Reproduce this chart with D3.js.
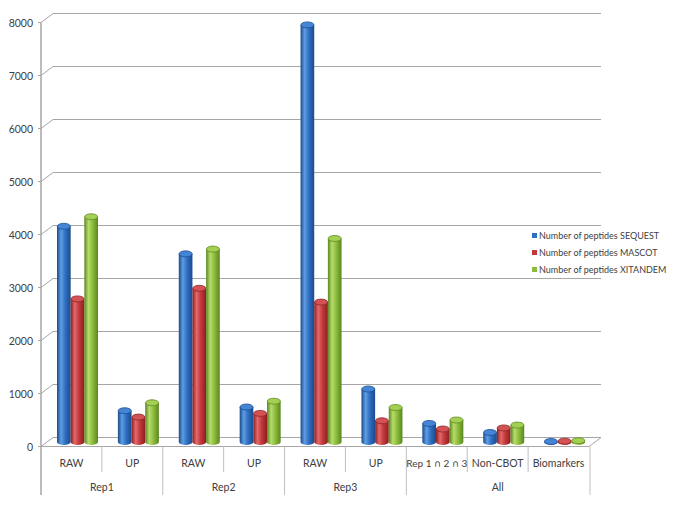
<!DOCTYPE html>
<html>
<head>
<meta charset="utf-8">
<script src="https://cdn.jsdelivr.net/npm/d3@7"></script>
<style>
  body { margin: 0; background: #fff; }
  svg { display: block; }
  text { font-family: Lato, "DejaVu Sans", sans-serif; fill: #404040; }
</style>
</head>
<body>
<svg id="chart" width="685" height="513"></svg>
<script>
// === Data ===
const subLabels = ['RAW', 'UP', 'RAW', 'UP', 'RAW', 'UP', 'Rep 1 \u2229 2 \u2229 3', 'Non-CBOT', 'Biomarkers'];
const groupOf = ['Rep1', 'Rep1', 'Rep2', 'Rep2', 'Rep3', 'Rep3', 'All', 'All', 'All'];
const groupLabels = ['Rep1', 'Rep2', 'Rep3', 'All'];
const seriesNames = ['Number of peptides SEQUEST', 'Number of peptides MASCOT', 'Number of peptides XITANDEM'];
const sequest = [4070, 590, 3550, 660, 7870, 1000, 350, 180, 10];
const mascot = [2700, 470, 2900, 540, 2640, 400, 245, 265, 15];
const xtandem = [4250, 740, 3640, 770, 3840, 650, 415, 320, 25];
const yTicks = [0, 1000, 2000, 3000, 4000, 5000, 6000, 7000, 8000];

const seriesValues = [sequest, mascot, xtandem];
const palette = [
    { dark: '#1b4a8a', mid: '#2f6fc2', light: '#5e9ee4', top: '#4585d6', rim: '#1d4f92' },
    { dark: '#8a1f21', mid: '#c3393b', light: '#e4696a', top: '#d45253', rim: '#8e2527' },
    { dark: '#5a8620', mid: '#8dbd3c', light: '#b6dc6c', top: '#a3d052', rim: '#5f8c24' }
];

const svg = d3.select('#chart');
const depth = { dx: 12, dy: -9 };

// Scales (front plane of the 3D box)
const yScale = d3.scaleLinear().domain([0, 8000]).range([446.5, 22.5]);
const xScale = d3.scaleBand().domain(d3.range(subLabels.length)).range([41, 589]);
const xInner = d3.scaleBand().domain(d3.range(3)).range([10, 51]);

// Gradients for the cylinders
const defs = svg.append('defs');
palette.forEach((c, i) => {
    const grad = defs.append('linearGradient')
        .attr('id', 'cyl' + i)
        .attr('x1', '0%').attr('x2', '100%').attr('y1', '0%').attr('y2', '0%');
    grad.append('stop').attr('offset', '0%').attr('stop-color', c.dark);
    grad.append('stop').attr('offset', '30%').attr('stop-color', c.light);
    grad.append('stop').attr('offset', '60%').attr('stop-color', c.mid);
    grad.append('stop').attr('offset', '100%').attr('stop-color', c.dark);
});

// === Walls / gridlines ===
const grid = svg.append('g').attr('class', 'grid');
const left = xScale.range()[0];
const right = xScale.range()[1];

grid.selectAll('line.gridline')
    .data(yTicks)
    .join('line')
    .attr('x1', left + depth.dx)
    .attr('x2', right + depth.dx)
    .attr('y1', d => yScale(d) + depth.dy)
    .attr('y2', d => yScale(d) + depth.dy)
    .attr('stroke', '#a6a6a6')
    .attr('stroke-width', 1);

grid.selectAll('line.diag')
    .data(yTicks)
    .join('line')
    .attr('x1', left)
    .attr('x2', left + depth.dx)
    .attr('y1', d => yScale(d))
    .attr('y2', d => yScale(d) + depth.dy)
    .attr('stroke', '#a6a6a6');

// Floor front edge and right edge
grid.append('line')
    .attr('x1', left).attr('x2', right)
    .attr('y1', yScale(0)).attr('y2', yScale(0))
    .attr('stroke', '#a6a6a6');
grid.append('line')
    .attr('x1', right).attr('x2', right + depth.dx)
    .attr('y1', yScale(0)).attr('y2', yScale(0) + depth.dy)
    .attr('stroke', '#a6a6a6');

// Y axis
const yAxisG = svg.append('g').attr('class', 'y-axis');
yAxisG.append('line')
    .attr('x1', left).attr('x2', left)
    .attr('y1', yScale(8000)).attr('y2', 495)
    .attr('stroke', '#a6a6a6').attr('stroke-width', 1.5);
yAxisG.selectAll('line.tick')
    .data(yTicks)
    .join('line')
    .attr('x1', left - 3).attr('x2', left)
    .attr('y1', d => yScale(d)).attr('y2', d => yScale(d))
    .attr('stroke', '#a6a6a6');
yAxisG.selectAll('text')
    .data(yTicks)
    .join('text')
    .attr('x', left - 8)
    .attr('y', d => yScale(d) + 4)
    .attr('text-anchor', 'end')
    .style('font-size', '10.5px')
    .text(d => d);

// === Bars (cylinders) ===
const baseY = yScale(0) + depth.dy / 2;
const bars = [];
subLabels.forEach((_, ci) => {
    seriesValues.forEach((vals, si) => {
        bars.push({ ci, si, value: vals[ci] });
    });
});

const barG = svg.append('g').attr('class', 'bars');
const bw = xInner.bandwidth();
const rx = bw / 2;
const ry = 3;

const cyl = barG.selectAll('g.cyl')
    .data(bars)
    .join('g')
    .attr('class', 'cyl');

cyl.append('path')
    .attr('d', d => {
        const x = xScale(d.ci) + xInner(d.si) + depth.dx / 2;
        const yTop = yScale(d.value) + depth.dy / 2;
        return `M${x},${yTop} L${x},${baseY} A${rx},${ry} 0 0 0 ${x + bw},${baseY} L${x + bw},${yTop} Z`;
    })
    .attr('fill', d => `url(#cyl${d.si})`);

cyl.append('ellipse')
    .attr('cx', d => xScale(d.ci) + xInner(d.si) + depth.dx / 2 + rx)
    .attr('cy', d => yScale(d.value) + depth.dy / 2)
    .attr('rx', rx - 0.3)
    .attr('ry', ry)
    .attr('fill', d => palette[d.si].top)
    .attr('stroke', d => palette[d.si].rim)
    .attr('stroke-width', 0.8);

// === Category axis ===
const catG = svg.append('g').attr('class', 'x-axis');
const groupStarts = [];
subLabels.forEach((_, i) => {
    if (i === 0 || groupOf[i] !== groupOf[i - 1]) groupStarts.push(i);
});

// Separators
d3.range(1, subLabels.length + 1).forEach(i => {
    const x = i < subLabels.length ? xScale(i) : right + 1;
    const isGroup = i === subLabels.length || groupStarts.includes(i);
    catG.append('line')
        .attr('x1', x).attr('x2', x)
        .attr('y1', yScale(0)).attr('y2', isGroup ? 495 : 472)
        .attr('stroke', '#bfbfbf');
});

// sub labels; the intersection sign comes from DejaVu so it looks like the original
catG.selectAll('text.sub')
    .data(subLabels)
    .join('text')
    .attr('class', 'sub')
    .attr('x', (d, i) => xScale(i) + xScale.bandwidth() / 2)
    .attr('y', 467)
    .attr('text-anchor', 'middle')
    .style('font-size', d => d.includes('\u2229') ? '10px' : '10.5px')
    .each(function(d) {
        const t = d3.select(this);
        d.split(/(\u2229)/).forEach(part => {
            const span = t.append('tspan').text(part);
            if (part === '\u2229') {
                span.style('font-family', '"DejaVu Sans", sans-serif')
                    .style('font-size', '9.5px');
            }
        });
    });

catG.selectAll('text.group')
    .data(groupLabels)
    .join('text')
    .attr('class', 'group')
    .attr('x', g => {
        const idx = groupOf.map((d, i) => d === g ? i : -1).filter(i => i >= 0);
        return (xScale(idx[0]) + xScale(idx[idx.length - 1]) + xScale.bandwidth()) / 2;
    })
    .attr('y', 491)
    .attr('text-anchor', 'middle')
    .style('font-size', '10.5px')
    .text(d => d);

// === Legend ===
const legend = svg.append('g').attr('transform', 'translate(532,233)');
const legendItems = legend.selectAll('g')
    .data(seriesNames)
    .join('g')
    .attr('transform', (d, i) => `translate(0,${i * 17})`);
legendItems.append('rect')
    .attr('width', 5).attr('height', 5)
    .attr('fill', (d, i) => palette[i].mid);
legendItems.append('text')
    .attr('x', 7)
    .attr('y', 5.5)
    .style('font-size', '9px')
    .text(d => d);
</script>
</body>
</html>
